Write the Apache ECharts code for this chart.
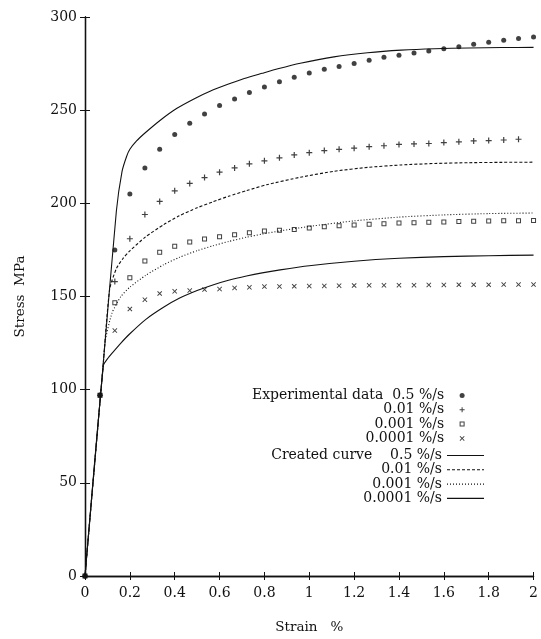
<!DOCTYPE html>
<html>
<head>
<meta charset="utf-8">
<script src="https://cdn.jsdelivr.net/npm/echarts@6/dist/echarts.min.js"></script>
<style>
  html, body { margin: 0; padding: 0; background: #fff; }
  #chart { width: 541px; height: 639px; }
</style>
</head>
<body>
<div id="chart"></div>
<script>
// experimental points, sampled every 1/15 %
var expStrain = [0, 0.067, 0.133, 0.2, 0.267, 0.333, 0.4, 0.467, 0.533, 0.6, 0.667, 0.733, 0.8, 0.867, 0.933, 1.0,
  1.067, 1.133, 1.2, 1.267, 1.333, 1.4, 1.467, 1.533, 1.6, 1.667, 1.733, 1.8, 1.867, 1.933, 2.0];
var exp05 = [0, 97, 175, 205, 219, 229, 237, 243, 248, 252.5, 256, 259.5, 262.5, 265.3, 267.7, 270,
  272, 273.5, 275, 276.8, 278.4, 279.5, 280.7, 281.7, 283, 284, 285.4, 286.5, 287.5, 288.4, 289.3];
var exp001 = [0, 97, 158, 181, 194, 201, 206.7, 210.7, 213.8, 216.7, 219, 221.2, 222.8, 224.4, 226, 227.2,
  228.3, 229, 229.6, 230.4, 230.9, 231.6, 231.9, 232.1, 232.6, 233, 233.5, 233.7, 234, 234.4];
var exp0001 = [0, 97, 146.7, 160, 169, 173.7, 177, 179.3, 180.9, 182, 183.2, 184.2, 185.1, 185.6, 186, 186.8,
  187.4, 188, 188.4, 188.8, 189.1, 189.4, 189.6, 189.8, 190, 190.2, 190.4, 190.5, 190.6, 190.7, 190.8];
var exp00001 = [0, 97, 131.7, 143.3, 148.3, 151.6, 152.8, 153.2, 153.7, 154, 154.6, 154.9, 155.3, 155.4, 155.5, 155.6,
  155.7, 155.8, 155.9, 156, 156, 156.1, 156.1, 156.2, 156.2, 156.3, 156.3, 156.3, 156.4, 156.4, 156.4];

// created curves
var c05Strain = [0, 0.08, 0.14, 0.165, 0.185, 0.2, 0.23, 0.27, 0.34, 0.41, 0.49, 0.56, 0.64, 0.71, 0.79, 0.86, 0.96, 1.11, 1.26, 1.41, 1.56, 1.71, 1.86, 2.0];
var c05Stress = [0, 112, 196, 217, 225, 229, 233.5, 238, 245, 251, 256.3, 260.3, 264, 267, 269.8, 272.2, 275.2, 278.6, 280.8, 282.2, 283, 283.4, 283.6, 283.7];
var c001Strain = [0, 0.08, 0.11, 0.14, 0.17, 0.2, 0.27, 0.35, 0.42, 0.5, 0.57, 0.64, 0.72, 0.81, 0.96, 1.11, 1.26, 1.41, 1.56, 1.71, 1.86, 2.0];
var c001Stress = [0, 112, 154, 165, 170.5, 174.5, 182, 188.5, 193.3, 197.6, 200.8, 203.8, 206.8, 210, 214, 217.2, 219.3, 220.6, 221.4, 221.8, 222, 222.1];
var c0001Strain = [0, 0.08, 0.09, 0.12, 0.16, 0.2, 0.27, 0.35, 0.42, 0.5, 0.57, 0.64, 0.72, 0.79, 0.87, 1.0, 1.2, 1.4, 1.6, 1.8, 2.0];
var c0001Stress = [0, 112, 126, 141, 150, 155, 161.3, 167, 171, 174.6, 177.2, 179.5, 181.8, 183.5, 185.2, 187.6, 190.6, 192.6, 193.8, 194.5, 194.8];
var c00001Strain = [0, 0.082, 0.1, 0.124, 0.16, 0.2, 0.27, 0.35, 0.42, 0.5, 0.57, 0.64, 0.72, 0.79, 0.87, 1.0, 1.2, 1.4, 1.6, 1.8, 2.0];
var c00001Stress = [0, 113, 116.5, 120, 125, 130, 137.6, 144.2, 149, 153.2, 156.2, 158.7, 161, 162.7, 164.3, 166.5, 168.9, 170.5, 171.4, 171.9, 172.2];

var xTicks = ['0', '0.2', '0.4', '0.6', '0.8', '1', '1.2', '1.4', '1.6', '1.8', '2'];
var yTicks = ['0', '50', '100', '150', '200', '250', '300'];

var labels = {
  e05: 'Experimental data  0.5 %/s', e001: '0.01 %/s', e0001: '0.001 %/s', e00001: '0.0001 %/s',
  c05: 'Created curve    0.5 %/s', c001: '0.01 %/s', c0001: '0.001 %/s', c00001: '0.0001 %/s'
};

var INK = '#111';
var FONT = "'DejaVu Serif', 'Liberation Serif', serif";
// marker shapes
var PLUS = 'path://M4,0H6V4H10V6H6V10H4V6H0V4H4Z';
var CROSS = 'path://M0,1.3L1.3,0L5,3.7L8.7,0L10,1.3L6.3,5L10,8.7L8.7,10L5,6.3L1.3,10L0,8.7L3.7,5Z';
var SQUARE = 'path://M0,0H10V10H0Z M2,2V8H8V2Z';

function zip(xs, ys) {
  return ys.map(function (y, i) { return [xs[i], y]; });
}

function expSeries(name, ys, symbol, size) {
  return {
    name: name, type: 'scatter', data: zip(expStrain, ys),
    symbol: symbol, symbolSize: size,
    itemStyle: { color: INK },
    z: 3
  };
}

function curveSeries(name, xs, ys, dash) {
  return {
    name: name, type: 'line', data: zip(xs, ys),
    symbol: 'none', smooth: 0.2,
    lineStyle: { color: INK, width: 1.1, type: dash },
    itemStyle: { color: INK }
  };
}

var axisCommonX = {
  type: 'value', min: 0, max: 2, interval: 0.2,
  axisLine: { show: true, lineStyle: { color: INK, width: 1.3 } },
  axisTick: { show: true, inside: true, length: 4, lineStyle: { color: INK } },
  splitLine: { show: false }
};
var axisCommonY = {
  type: 'value', min: 0, max: 300, interval: 50,
  axisLine: { show: true, lineStyle: { color: INK, width: 1.3 } },
  axisTick: { show: true, inside: true, length: 5, lineStyle: { color: INK } },
  splitLine: { show: false }
};

function legendBox(top, names, iw, ih, extra) {
  var l = {
    orient: 'vertical', left: 252, top: top, padding: 0, itemGap: 0.3,
    align: 'right', itemWidth: iw, itemHeight: ih,
    data: names, selectedMode: false,
    formatter: function (n) { return '{t|' + labels[n] + '}'; },
    textStyle: {
      color: INK, fontFamily: FONT,
      rich: { t: { width: 190, align: 'right', fontSize: 14, lineHeight: 13, fontFamily: FONT, color: INK } }
    }
  };
  if (extra) for (var k in extra) l[k] = extra[k];
  return l;
}

var chart = echarts.init(document.getElementById('chart'));
chart.setOption({
  animation: false,
  backgroundColor: '#fff',
  textStyle: { fontFamily: FONT, color: INK },
  grid: { left: 85, right: 7, top: 17, bottom: 52 },
  xAxis: [
    Object.assign({}, axisCommonX, {
      position: 'bottom', name: 'Strain   %', nameLocation: 'middle', nameGap: 44,
      nameTextStyle: { fontFamily: FONT, fontSize: 13.5, color: INK },
      axisLabel: { color: INK, fontFamily: FONT, fontSize: 14, margin: 10,
        formatter: function (v) { return xTicks[Math.round(v / 0.2)]; } }
    }),
    Object.assign({}, axisCommonX, { position: 'top', axisLabel: { show: false } })
  ],
  yAxis: [
    Object.assign({}, axisCommonY, {
      position: 'left', name: 'Stress  MPa', nameLocation: 'middle', nameGap: 58, nameRotate: 90,
      nameTextStyle: { fontFamily: FONT, fontSize: 13.5, color: INK },
      axisLabel: { color: INK, fontFamily: FONT, fontSize: 14, margin: 8,
        formatter: function (v) { return yTicks[Math.round(v / 50)]; } }
    }),
    Object.assign({}, axisCommonY, { position: 'right', axisLabel: { show: false } })
  ],
  legend: [
    legendBox(388.5, ['e05', 'e001', 'e0001', 'e00001'], 26, 5),
    legendBox(448.5, ['c05', 'c001', 'c0001', 'c00001'], 37, 8,
      { itemStyle: { opacity: 0 }, lineStyle: { width: 1.1 } })
  ],
  series: [
    expSeries('e05', exp05, 'circle', 5),
    expSeries('e001', exp001, PLUS, 6),
    expSeries('e0001', exp0001, SQUARE, 5),
    expSeries('e00001', exp00001, CROSS, 5),
    curveSeries('c05', c05Strain, c05Stress, 'solid'),
    curveSeries('c001', c001Strain, c001Stress, [3, 2]),
    curveSeries('c0001', c0001Strain, c0001Stress, [1, 2]),
    curveSeries('c00001', c00001Strain, c00001Stress, 'solid')
  ]
});
</script>
</body>
</html>
